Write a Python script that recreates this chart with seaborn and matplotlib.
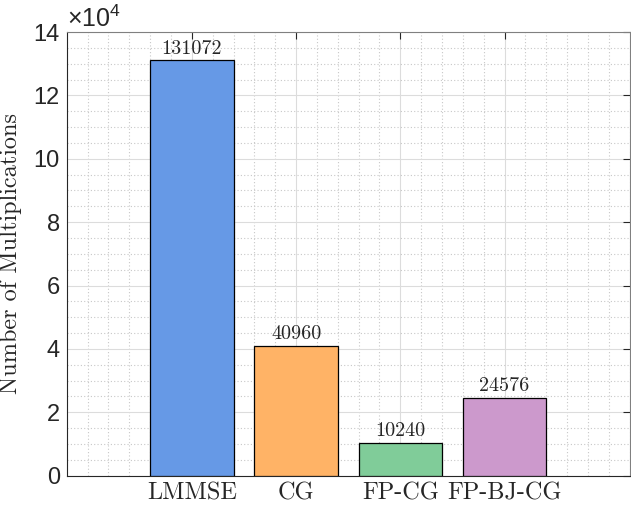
import matplotlib
matplotlib.use("Agg")
import matplotlib.pyplot as plt
import seaborn as sns
from matplotlib.ticker import MultipleLocator, FixedLocator

# Data
methods = ["LMMSE", "CG", "FP-CG", "FP-BJ-CG"]
mults = [131072, 40960, 10240, 24576]
bar_colors = ["#6699E6", "#FFB366", "#80CC99", "#CC99CC"]
yticks = [0, 2, 4, 6, 8, 10, 12, 14]

sns.set_style("white")
plt.rcParams["mathtext.fontset"] = "custom"
plt.rcParams["mathtext.rm"] = "Liberation Sans"
plt.rcParams["mathtext.it"] = "Liberation Sans"

fig = plt.figure(figsize=(6.31, 5.05), dpi=100)
ax = fig.add_axes([0.1057, 0.058, 0.8923, 0.8786])

scaled = [v / 1e4 for v in mults]
sns.barplot(x=methods, y=scaled, hue=methods, palette=bar_colors, legend=False,
            width=0.8, edgecolor="black", linewidth=0.9, ax=ax, zorder=3, saturation=1)

for cont, v in zip(ax.containers, mults):
    ax.bar_label(cont, labels=[str(v)], padding=2, fontfamily="cmr10", fontsize=14.5)

ax.set_xlim(-1.2, 4.2)
ax.set_ylim(0, 14)
ax.yaxis.set_major_locator(FixedLocator(yticks))
ax.yaxis.set_minor_locator(MultipleLocator(0.5))
ax.xaxis.set_minor_locator(MultipleLocator(0.2))
ax.set_yticks(yticks)
ax.set_yticklabels([str(t) for t in yticks], fontfamily="Liberation Sans", fontsize=17)
ax.set_xticks(range(len(methods)))
ax.set_xticklabels(methods, fontfamily="cmr10", fontsize=17.5)

ax.grid(True, which="major", color="#dcdcdc", linewidth=0.8, zorder=0)
ax.grid(True, which="minor", color="#c8c8c8", linestyle=(0, (1, 2)), linewidth=0.8, zorder=0)
ax.set_axisbelow(True)

ax.tick_params(which="major", direction="in", length=5, width=0.8, color="#262626",
               top=True, right=True, pad=5)
ax.tick_params(which="minor", length=0)
for s in ax.spines.values():
    s.set_visible(True)
    s.set_color("#262626")
    s.set_linewidth(0.8)
ax.spines["top"].set_color("#808080")
ax.spines["right"].set_color("#808080")

ax.set_ylabel("Number of Multiplications", fontfamily="cmr10", fontsize=17.5, labelpad=8)
ax.text(0.0, 1.0, r"$\times10^{4}$", transform=ax.transAxes, fontsize=18,
        ha="left", va="bottom")

fig.savefig("out.png", dpi=100)
